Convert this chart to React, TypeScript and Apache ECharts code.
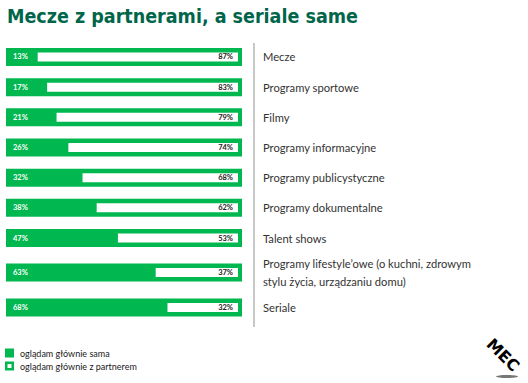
import React, { useEffect, useRef } from "react";
import * as echarts from "echarts";

const categories = [
  "Mecze",
  "Programy sportowe",
  "Filmy",
  "Programy informacyjne",
  "Programy publicystyczne",
  "Programy dokumentalne",
  "Talent shows",
  "Programy lifestyle\u2019owe (o kuchni, zdrowym\nstylu życia, urządzaniu domu)",
  "Seriale",
];
const sama = [13, 17, 21, 26, 32, 38, 47, 63, 68];
const partner = [87, 83, 79, 74, 68, 62, 53, 37, 32];
const legendLabels = ["oglądam głównie sama", "oglądam głównie z partnerem"];
const titleText = "Mecze z partnerami, a seriale same";

const GREEN = "#00b84f";
const SPLIT = 7;

function renderItem(params: any, api: any) {
  const s = api.value(0);
  const p = api.value(1);
  const idx = api.value(2);
  const pt0 = api.coord([0, idx]);
  const ptS = api.coord([s, idx]);
  const ptE = api.coord([s + p, idx]);
  const y = pt0[1];
  const h = 18;
  const inset = 4;
  const ih = 9;
  return {
    type: "group",
    children: [
      {
        type: "rect",
        shape: { x: pt0[0], y: y - h / 2, width: ptE[0] - pt0[0], height: h },
        style: { fill: GREEN },
      },
      {
        type: "rect",
        shape: { x: ptS[0] + 1, y: y - ih / 2, width: ptE[0] - inset - ptS[0] - 1, height: ih },
        style: { fill: "#ffffff" },
      },
      {
        type: "text",
        style: {
          text: s + "%",
          x: pt0[0] + 7,
          y: y,
          verticalAlign: "middle",
          align: "left",
          fill: "#ffffff",
          fontFamily: "Lato",
          fontWeight: "bold",
          fontSize: 7.5,
        },
      },
      {
        type: "text",
        style: {
          text: p + "%",
          x: ptE[0] - 9,
          y: y,
          verticalAlign: "middle",
          align: "right",
          fill: "#222222",
          fontFamily: "Lato",
          fontWeight: "bold",
          fontSize: 7.5,
        },
      },
    ],
  };
}

export default function App() {
  const ref = useRef<HTMLDivElement>(null);
  useEffect(() => {
    if (!ref.current) return;
    const chart = echarts.init(ref.current, null, { renderer: "svg" });
    const rows = sama.map((s, i) => [s, partner[i]]);
    const part1 = rows.slice(0, SPLIT).map((r, i) => [r[0], r[1], i]);
    const part2 = rows.slice(SPLIT).map((r, i) => [r[0], r[1], i]);
    const yLabel = {
      show: true,
      align: "left" as const,
      margin: 21,
      color: "#333333",
      fontFamily: "Lato",
      fontSize: 11.2,
      lineHeight: 18,
      padding: [0, 0, 3, 0],
    };
    const option: any = {
      animation: false,
      backgroundColor: "#ffffff",
      title: {
        text: titleText,
        left: 2,
        top: 1,
        textStyle: {
          color: "#00664a",
          fontFamily: "DejaVu Sans Condensed",
          fontWeight: "bold",
          fontSize: 19.5,
        },
      },
      grid: [
        { left: 6, right: 286, top: 41.9, height: 211.2 },
        { left: 6, right: 286, top: 255, height: 70 },
      ],
      xAxis: [
        { type: "value", gridIndex: 0, min: 0, max: 100, show: false },
        { type: "value", gridIndex: 1, min: 0, max: 100, show: false },
      ],
      yAxis: [
        {
          type: "category",
          gridIndex: 0,
          inverse: true,
          position: "right",
          data: categories.slice(0, SPLIT),
          axisLine: { show: false },
          axisTick: { show: false },
          axisLabel: yLabel,
        },
        {
          type: "category",
          gridIndex: 1,
          inverse: true,
          position: "right",
          data: categories.slice(SPLIT),
          axisLine: { show: false },
          axisTick: { show: false },
          axisLabel: { ...yLabel, padding: [0, 0, 0, 0] },
        },
      ],
      series: [
        {
          type: "custom",
          name: legendLabels[0],
          xAxisIndex: 0,
          yAxisIndex: 0,
          renderItem,
          encode: { x: [0, 1], y: 2 },
          data: part1,
        },
        {
          type: "custom",
          name: legendLabels[1],
          xAxisIndex: 1,
          yAxisIndex: 1,
          renderItem,
          encode: { x: [0, 1], y: 2 },
          data: part2,
        },
      ],
      graphic: [
        {
          type: "line",
          shape: { x1: 254, y1: 43, x2: 254, y2: 327 },
          style: { stroke: "#c8c8c8", lineWidth: 2 },
        },
        { type: "rect", shape: { x: 5, y: 348.5, width: 9, height: 9 }, style: { fill: GREEN } },
        {
          type: "text",
          style: {
            text: legendLabels[0],
            x: 20,
            y: 353,
            verticalAlign: "middle",
            fill: "#1a1a1a",
            fontFamily: "Lato",
            fontSize: 9,
          },
        },
        { type: "rect", shape: { x: 5, y: 361.5, width: 9, height: 9 }, style: { fill: GREEN } },
        { type: "rect", shape: { x: 7.5, y: 364, width: 4, height: 4 }, style: { fill: "#ffffff" } },
        {
          type: "text",
          style: {
            text: legendLabels[1],
            x: 20,
            y: 366,
            verticalAlign: "middle",
            fill: "#1a1a1a",
            fontFamily: "Lato",
            fontSize: 9,
          },
        },
        {
          type: "ellipse",
          shape: { cx: 507, cy: 376.5, rx: 11, ry: 1.5 },
          style: { fill: "#555555", opacity: 0.8 },
        },
        {
          type: "text",
          x: 503,
          y: 355,
          rotation: -Math.PI / 4,
          style: {
            text: "MEC",
            x: 0,
            y: 0,
            align: "center",
            verticalAlign: "middle",
            fill: "#000000",
            fontFamily: "DejaVu Sans",
            fontWeight: "bold",
            fontSize: 16,
          },
        },
      ],
    };
    chart.setOption(option);
    return () => chart.dispose();
  }, []);
  return (
    <div
      ref={ref}
      style={{ position: "absolute", left: 0, top: 0, width: 528, height: 383 }}
    />
  );
}
